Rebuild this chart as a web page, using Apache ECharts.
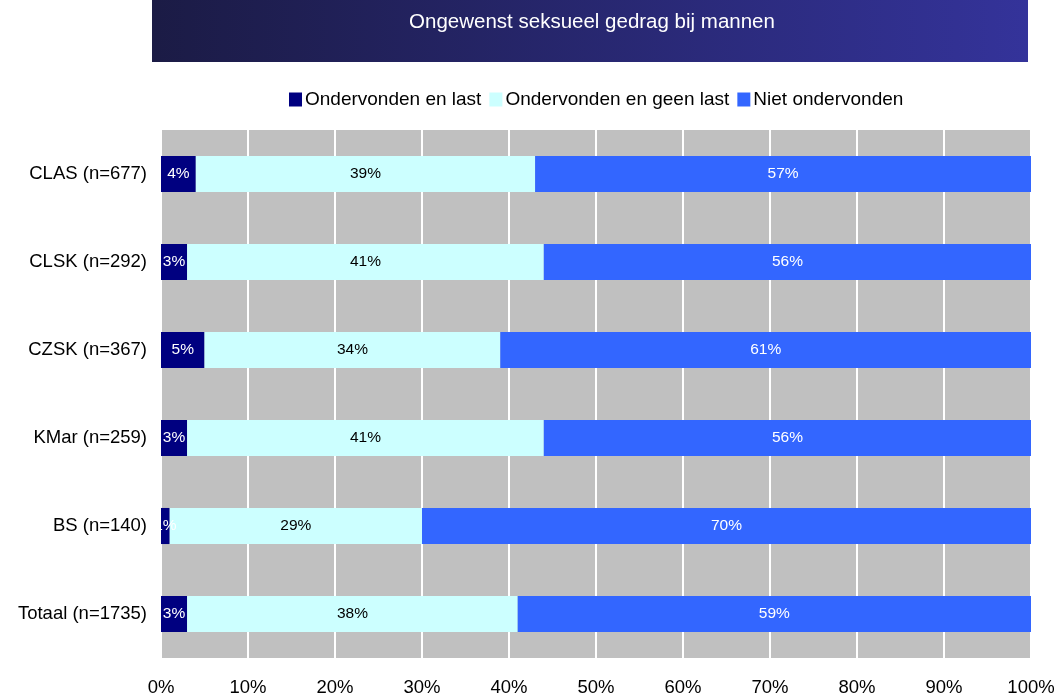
<!DOCTYPE html>
<html><head><meta charset="utf-8">
<script src="https://cdn.jsdelivr.net/npm/echarts@6/dist/echarts.min.js"></script>
<style>html,body{margin:0;padding:0;background:#fff}#c{width:1059px;height:697px}</style>
</head><body><div id="c"></div>
<script>
const categories = ['CLAS (n=677)','CLSK (n=292)','CZSK (n=367)','KMar (n=259)','BS (n=140)','Totaal (n=1735)'];
const lastValues = [4, 3, 5, 3, 1, 3];
const geenLastValues = [39, 41, 34, 41, 29, 38];
const nietValues = [57, 56, 61, 56, 70, 59];
const seriesNames = ['Ondervonden en last','Ondervonden en geen last','Niet ondervonden'];
const xTicks = [0,10,20,30,40,50,60,70,80,90,100];

const chart = echarts.init(document.getElementById('c'), null, {renderer:'canvas'});
const font = 'Liberation Sans, Arial, sans-serif';
function mk(name, data, color, labelColor){
  return {name, type:'bar', stack:'t', data, barCategoryGap:'59%',
    itemStyle:{color},
    label:{show:true, position:'inside', formatter:'{c}%', color:labelColor, fontSize:15.5, fontFamily:font},
    emphasis:{disabled:true}};
}
chart.setOption({
  animation:false,
  graphic:[{type:'rect', z:0, shape:{x:152,y:0,width:876,height:62},
    style:{fill:new echarts.graphic.LinearGradient(0,0,1,0,[{offset:0,color:'#1b1b45'},{offset:1,color:'#34339a'}])}}],
  title:{text:'Ongewenst seksueel gedrag bij mannen', left:587, textAlign:'center', top:7,
    textStyle:{color:'#fff', fontSize:20.5, fontWeight:'normal', fontFamily:font}},
  legend:{top:85, left:284, itemWidth:13, itemHeight:14, itemGap:8,
    textStyle:{fontSize:19, color:'#000', fontFamily:font, padding:[0,0,0,-2]},
    data:seriesNames.map(n=>({name:n, icon:'rect'}))},
  grid:{left:161, right:28, top:130, bottom:38, show:true, backgroundColor:'#c0c0c0', borderWidth:0},
  xAxis:{type:'value', min:0, max:100, interval:10,
    data:xTicks,
    axisLabel:{formatter:'{value}%', fontSize:18.5, color:'#000', fontFamily:font, margin:20},
    splitLine:{show:true, lineStyle:{color:'#fff', width:2}},
    axisLine:{show:false}, axisTick:{show:false}},
  yAxis:{type:'category', inverse:true, data:categories,
    axisLabel:{fontSize:18.5, color:'#000', fontFamily:font, margin:14},
    axisLine:{show:false}, axisTick:{show:false}, splitLine:{show:false}},
  series:[
    mk(seriesNames[0], lastValues, '#000080', '#fff'),
    mk(seriesNames[1], geenLastValues, '#ccffff', '#000'),
    mk(seriesNames[2], nietValues, '#3366ff', '#fff')
  ]
});
</script></body></html>
